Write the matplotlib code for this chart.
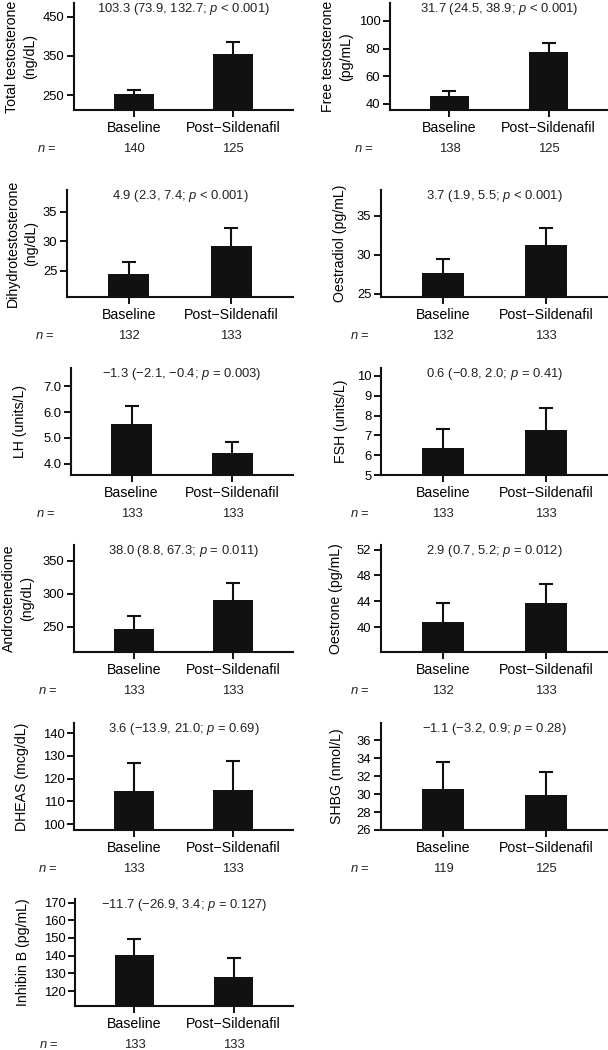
import numpy as np
import matplotlib
matplotlib.use('Agg')
import matplotlib.pyplot as plt
import matplotlib.transforms as mtransforms
from matplotlib.ticker import FormatStrFormatter

plt.rcParams['font.family'] = ['Liberation Sans', 'DejaVu Sans']
plt.rcParams['mathtext.fontset'] = 'custom'
plt.rcParams['mathtext.it'] = 'Liberation Sans:italic'
plt.rcParams['mathtext.rm'] = 'Liberation Sans'

# ---------------- data ----------------
groups = ['Baseline', 'Post\u2212Sildenafil']

ylabels = ['Total testosterone\n(ng/dL)', 'Free testosterone\n(pg/mL)',
           'Dihydrotestosterone\n(ng/dL)', 'Oestradiol (pg/mL)',
           'LH (units/L)', 'FSH (units/L)',
           'Androstenedione\n(ng/dL)', 'Oestrone (pg/mL)',
           'DHEAS (mcg/dL)', 'SHBG (nmol/L)',
           'Inhibin B (pg/mL)']

effects = ['103.3 (73.9, 132.7; $\\mathit{p}$ < 0.001)',
           '31.7 (24.5, 38.9; $\\mathit{p}$ < 0.001)',
           '4.9 (2.3, 7.4; $\\mathit{p}$ < 0.001)',
           '3.7 (1.9, 5.5; $\\mathit{p}$ < 0.001)',
           '\u22121.3 (\u22122.1, \u22120.4; $\\mathit{p}$ = 0.003)',
           '0.6 (\u22120.8, 2.0; $\\mathit{p}$ = 0.41)',
           '38.0 (8.8, 67.3; $\\mathit{p}$ = 0.011)',
           '2.9 (0.7, 5.2; $\\mathit{p}$ = 0.012)',
           '3.6 (\u221213.9, 21.0; $\\mathit{p}$ = 0.69)',
           '\u22121.1 (\u22123.2, 0.9; $\\mathit{p}$ = 0.28)',
           '\u221211.7 (\u221226.9, 3.4; $\\mathit{p}$ = 0.127)']

baseline_mean = [252, 45.8, 24.4, 27.7, 5.55, 6.38, 247, 40.8, 114.7, 30.6, 140.4]
baseline_err = [10, 3.4, 2.0, 1.8, 0.67, 0.92, 19, 2.9, 12.2, 2.95, 9.0]
post_mean = [355, 77.6, 29.2, 31.3, 4.41, 7.26, 290, 43.7, 114.8, 29.85, 128.1]
post_err = [30, 6.7, 3.0, 2.1, 0.45, 1.12, 26, 3.0, 12.8, 2.6, 10.8]

n_baseline = [140, 138, 132, 132, 133, 133, 133, 132, 133, 119, 133]
n_post = [125, 125, 133, 133, 133, 133, 133, 133, 133, 125, 133]

ylims = [(212, 485), (35.4, 113), (20.5, 38.7), (24.57, 38.3), (3.57, 7.7),
         (5.0, 10.4), (212, 374), (36.2, 52.7), (97.4, 144.4), (26, 37.9),
         (111.6, 172)]
yticks = [[250, 350, 450], [40, 60, 80, 100], [25, 30, 35], [25, 30, 35],
          [4.0, 5.0, 6.0, 7.0], [5, 6, 7, 8, 9, 10], [250, 300, 350],
          [40, 44, 48, 52], [100, 110, 120, 130, 140], [26, 28, 30, 32, 34, 36],
          [120, 130, 140, 150, 160, 170]]
ytick_fmt = ['%d', '%d', '%d', '%d', '%.1f', '%d', '%d', '%d', '%d', '%d', '%d']

# ---------------- layout (pixels) ----------------
W, H = 608, 1050
row_tops = [3, 190, 368, 545, 723, 899]
ax_h = 107
lefts = [74, 390, 67, 381, 71, 381, 74, 381, 74, 381, 75]
rights = [293, 608, 293, 608, 293, 608, 293, 608, 293, 608, 293]
label_cx = [21, 337, 22, 340, 20, 340.5, 18, 336, 22.5, 337.5, 23.5]
n_eq_cx = [47, 364, 45, 360, 46, 360, 48, 360, 48, 360, 49]

FS_SMALL = 9.4
FS_BIG = 10.2

fig = plt.figure(figsize=(W / 100, H / 100), dpi=100)
fig.patch.set_facecolor('white')

xpos = np.arange(len(groups))
for i in range(len(ylabels)):
    row = i // 2
    top = row_tops[row]
    l, r = lefts[i], rights[i]
    ax = fig.add_axes([l / W, 1 - (top + ax_h) / H, (r - l) / W, ax_h / H])
    means = [baseline_mean[i], post_mean[i]]
    errs = [baseline_err[i], post_err[i]]
    ax.bar(xpos, means, width=0.4, color='#111111', zorder=3)
    eb = ax.errorbar(xpos, means, yerr=[np.zeros(2), errs], fmt='none',
                     ecolor='#111111', elinewidth=1.5, capsize=5.2,
                     capthick=1.5, zorder=2)
    for cl in eb[1]:
        if np.allclose(cl.get_ydata(), means):
            cl.set_visible(False)
    ax.set_xlim(-0.6, 1.6)
    ax.set_ylim(*ylims[i])
    ax.set_yticks(yticks[i])
    ax.yaxis.set_major_formatter(FormatStrFormatter(ytick_fmt[i]))
    ax.set_xticks(xpos)
    ax.set_xticklabels(groups, fontsize=FS_BIG)
    ax.tick_params(axis='y', labelsize=FS_SMALL, length=5, width=1.4, pad=2,
                   direction='out', color='#111111')
    ax.tick_params(axis='x', length=5, width=1.4, pad=3, direction='out',
                   color='#111111')
    for s in ['top', 'right']:
        ax.spines[s].set_visible(False)
    for s in ['left', 'bottom']:
        ax.spines[s].set_linewidth(1.5)
        ax.spines[s].set_color('#111111')
    ax.set_ylabel(ylabels[i], fontsize=FS_BIG, va='center', ha='center',
                  linespacing=1.35)
    ax.yaxis.set_label_coords((label_cx[i] - l) / (r - l), 0.5)
    trans = mtransforms.blended_transform_factory(ax.transData, ax.transAxes)
    ax.text(0.5, 1 - 6 / ax_h, effects[i], transform=trans, ha='center',
            va='center', fontsize=FS_SMALL, color='#222222')
    ny = -39 / ax_h
    ax.text(0, ny, str(n_baseline[i]), transform=trans, ha='center',
            va='center', fontsize=FS_SMALL, color='#222222', clip_on=False)
    ax.text(1, ny, str(n_post[i]), transform=trans, ha='center',
            va='center', fontsize=FS_SMALL, color='#222222', clip_on=False)
    ax.text((n_eq_cx[i] - l) / (r - l), ny, '$\\mathit{n}$ =',
            transform=ax.transAxes, ha='center', va='center',
            fontsize=FS_SMALL, color='#222222', clip_on=False)

fig.savefig('out.png', dpi=100, facecolor='white')
